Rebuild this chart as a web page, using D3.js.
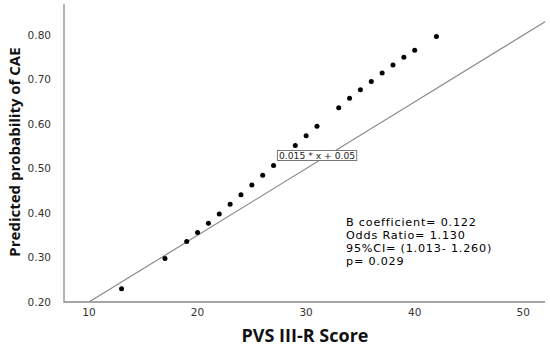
<!DOCTYPE html>
<html>
<head>
<meta charset="utf-8">
<script src="https://cdn.jsdelivr.net/npm/d3@7"></script>
<style>
  body { margin: 0; background: #fff; }
  svg { display: block; }
</style>
</head>
<body>
<script>
// PVS III-R score vs predicted probability of CAE
const scores = [13, 17, 19, 20, 21, 22, 23, 24, 25, 26, 27, 29, 30, 31, 33, 34, 35, 36, 37, 38, 39, 40, 42];
const probs = [0.230, 0.298, 0.336, 0.356, 0.377, 0.398, 0.420, 0.441, 0.463, 0.485, 0.507, 0.552, 0.574, 0.595, 0.637, 0.658, 0.677, 0.696, 0.715, 0.733, 0.750, 0.766, 0.797];

const xTicks = [10, 20, 30, 40, 50];
const yTicks = [0.2, 0.3, 0.4, 0.5, 0.6, 0.7, 0.8];

// fit line: 0.015 * x + 0.05
const fitSlope = 0.015;
const fitIntercept = 0.05;
const fitRange = [10, 52];

const statsLines = ['B coefficient= 0.122', 'Odds Ratio= 1.130', '95%CI= (1.013- 1.260)', 'p= 0.029'];

const width = 550, height = 346;

const x = d3.scaleLinear().domain([7.7, 52]).range([64, 545]);
const y = d3.scaleLinear().domain([0.2, 0.87]).range([302, 4]);

const svg = d3.select('body')
  .append('svg')
  .attr('width', width)
  .attr('height', height);

// axis lines
svg.append('path')
  .attr('d', `M${x.range()[0]},${y.range()[1]}V${y.range()[0]}H${x.range()[1]}`)
  .attr('fill', 'none')
  .attr('stroke', '#8a8a8a')
  .attr('stroke-width', 1.3);

const tickFont = '"DejaVu Sans", sans-serif';
const titleFont = '"Open Sans", sans-serif';

svg.append('g')
  .selectAll('text')
  .data(yTicks)
  .join('text')
  .attr('x', 51)
  .attr('y', d => y(d))
  .attr('dy', '0.35em')
  .attr('text-anchor', 'end')
  .attr('font-family', tickFont)
  .attr('font-size', 10.5)
  .attr('fill', '#333')
  .text(d => d3.format('.2f')(d));

svg.append('g')
  .selectAll('text')
  .data(xTicks)
  .join('text')
  .attr('x', d => x(d))
  .attr('y', 312)
  .attr('dy', '0.35em')
  .attr('text-anchor', 'middle')
  .attr('font-family', tickFont)
  .attr('font-size', 10.5)
  .attr('fill', '#333')
  .text(d => d);

// fit line
svg.append('line')
  .attr('x1', x(fitRange[0]))
  .attr('y1', y(fitSlope * fitRange[0] + fitIntercept))
  .attr('x2', x(fitRange[1]))
  .attr('y2', y(fitSlope * fitRange[1] + fitIntercept))
  .attr('stroke', '#8a8a8a')
  .attr('stroke-width', 1.2);

// points
svg.append('g')
  .selectAll('circle')
  .data(scores)
  .join('circle')
  .attr('cx', d => x(d))
  .attr('cy', (d, i) => y(probs[i]))
  .attr('r', 2.5)
  .attr('fill', '#000');

// equation label
const eq = svg.append('g').attr('transform', 'translate(317,155.5)');
const eqText = eq.append('text')
  .attr('text-anchor', 'middle')
  .attr('dy', '0.35em')
  .attr('font-family', tickFont)
  .attr('font-size', 9.2)
  .attr('fill', '#222')
  .text(`${fitSlope} * x + ${fitIntercept}`);
const bb = eqText.node().getBBox();
eq.insert('rect', 'text')
  .attr('x', bb.x - 1.5)
  .attr('y', -5)
  .attr('width', bb.width + 3)
  .attr('height', 10)
  .attr('fill', '#fff')
  .attr('stroke', '#777')
  .attr('stroke-width', 1);

// stats text
svg.append('g')
  .selectAll('text')
  .data(statsLines)
  .join('text')
  .attr('x', 346)
  .attr('y', (d, i) => 226 + i * 13)
  .attr('font-family', tickFont)
  .attr('font-size', 11.2)
  .attr('letter-spacing', 0.8)
  .attr('fill', '#000')
  .text(d => d);

// axis titles
svg.append('text')
  .attr('x', 305)
  .attr('y', 342)
  .attr('text-anchor', 'middle')
  .attr('font-family', titleFont)
  .attr('font-weight', 'bold')
  .attr('font-size', 18)
  .attr('fill', '#111')
  .text('PVS III-R Score');

svg.append('text')
  .attr('transform', 'translate(20,152) rotate(-90)')
  .attr('text-anchor', 'middle')
  .attr('font-family', titleFont)
  .attr('font-weight', 'bold')
  .attr('font-size', 15)
  .attr('fill', '#111')
  .text('Predicted probability of CAE');
</script>
</body>
</html>
